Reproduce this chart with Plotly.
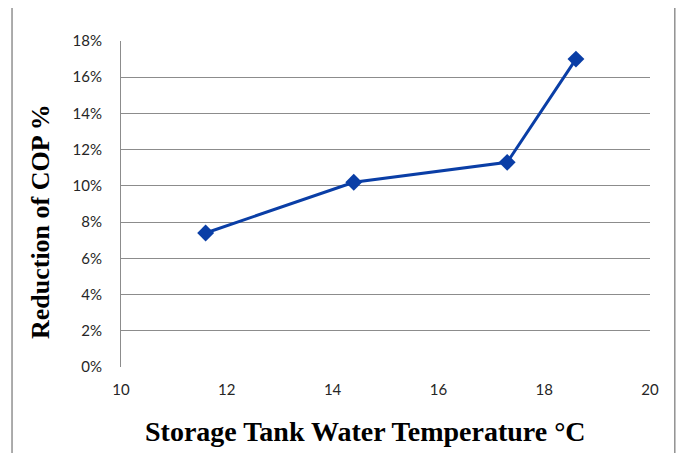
import plotly.graph_objects as go

temperature = [11.6, 14.4, 17.3, 18.6]
cop_reduction = [0.074, 0.102, 0.113, 0.170]
y_ticks = [0, 0.02, 0.04, 0.06, 0.08, 0.10, 0.12, 0.14, 0.16, 0.18]
x_ticks = [10, 12, 14, 16, 18, 20]

fig = go.Figure()
fig.add_trace(go.Scatter(
    x=temperature, y=cop_reduction, mode="lines+markers",
    line=dict(color="#0A3EA6", width=3),
    marker=dict(symbol="diamond", size=13, color="#0A3EA6"),
    showlegend=False,
))

tick_font = dict(family="Lato, Carlito, Liberation Sans, sans-serif", size=15, color="#262626")
title_font_family = "Liberation Serif, Times New Roman, serif"
fig.update_layout(
    width=676, height=445,
    margin=dict(l=113, r=34, t=33, b=86),
    paper_bgcolor="white", plot_bgcolor="white",
    xaxis=dict(range=[10, 20], tickvals=x_ticks, showgrid=False, zeroline=False,
               showline=False, tickfont=tick_font, ticks="outside", ticklen=9,
               tickcolor="rgba(0,0,0,0)"),
    yaxis=dict(range=[0, 0.18], tickvals=y_ticks, tickformat=".0%", showgrid=True,
               gridcolor="#8C8C8C", gridwidth=1, zeroline=False,
               showline=True, linecolor="#8C8C8C", linewidth=1,
               tickfont=tick_font, ticks="outside", ticklen=15,
               tickcolor="rgba(0,0,0,0)"),
    annotations=[
        dict(text="<b>Storage Tank Water Temperature \u00b0C</b>", xref="paper", yref="paper",
             x=0.463, y=-0.199, xanchor="center", yanchor="middle", showarrow=False,
             font=dict(family=title_font_family, size=28, color="black")),
        dict(text="<b>Reduction of COP %</b>", xref="paper", yref="paper",
             x=-0.151, y=0.445, xanchor="center", yanchor="middle", showarrow=False, textangle=-90,
             font=dict(family=title_font_family, size=26, color="black")),
    ],
    shapes=[
        dict(type="rect", xref="paper", yref="paper", x0=-0.206, x1=1.047, y0=-0.4, y1=1.104,
             line=dict(color="#595959", width=1), fillcolor="rgba(0,0,0,0)", layer="below"),
    ],
)

fig.write_html("out.html")
